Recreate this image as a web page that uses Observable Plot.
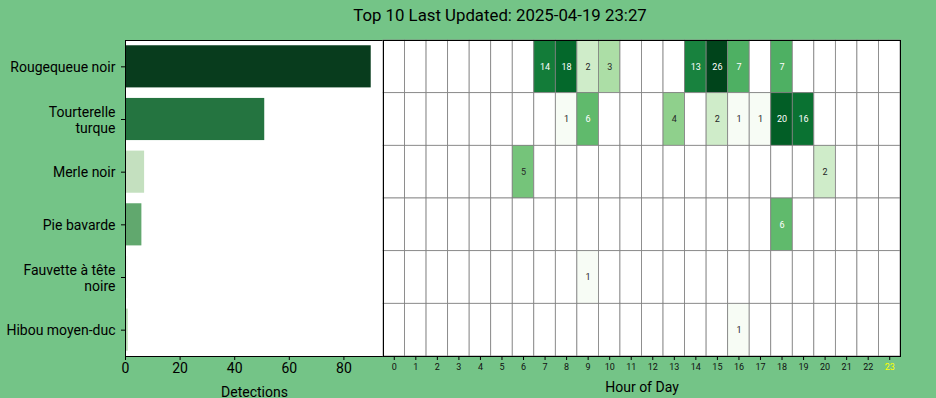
<!DOCTYPE html>
<html><head><meta charset="utf-8">
<script src="https://cdn.jsdelivr.net/npm/d3@7"></script>
<script src="https://cdn.jsdelivr.net/npm/@observablehq/plot@0.6"></script>
<style>
html,body{margin:0;padding:0;background:#74c487;}
#wrap{position:relative;width:936px;height:398px;background:#74c487;font-family:Roboto,sans-serif;overflow:hidden}
#title{position:absolute;left:0;top:5px;width:1000px;text-align:center;font-size:16.8px;line-height:20px;color:#000;}
.panel{position:absolute;top:0}
#left{left:0;width:386px}
#right{left:380px;width:556px}
</style></head>
<body><div id="wrap"><div id="title"></div><div id="left" class="panel"></div><div id="right" class="panel"></div></div>
<script>
// ---- data ----
const species = ["Rougequeue noir","Tourterelle turque","Merle noir","Pie bavarde","Fauvette à tête noire","Hibou moyen-duc"];
const speciesLabels = ["Rougequeue noir","Tourterelle\nturque","Merle noir","Pie bavarde","Fauvette à tête\nnoire","Hibou moyen-duc"];
const maxConfidence = [0.98, 0.922, 0.776, 0.862, 0.70, 0.785];
const hours = [0,1,2,3,4,5,6,7,8,9,10,11,12,13,14,15,16,17,18,19,20,21,22,23];
const hourlyCounts = [
  [0,0,0,0,0,0,0,14,18,2,3,0,0,0,13,26,7,0,7,0,0,0,0,0],
  [0,0,0,0,0,0,0,0,1,6,0,0,0,4,0,2,1,1,20,16,0,0,0,0],
  [0,0,0,0,0,0,5,0,0,0,0,0,0,0,0,0,0,0,0,0,2,0,0,0],
  [0,0,0,0,0,0,0,0,0,0,0,0,0,0,0,0,0,0,6,0,0,0,0,0],
  [0,0,0,0,0,0,0,0,0,1,0,0,0,0,0,0,0,0,0,0,0,0,0,0],
  [0,0,0,0,0,0,0,0,0,0,0,0,0,0,0,0,1,0,0,0,0,0,0,0]
];
const detectionTicks = [0,20,40,60,80];
const currentHour = 23;
const titleText = "Top 10 Last Updated: 2025-04-19 23:27";
const xLabelLeft = "Detections";
const xLabelRight = "Hour of Day";

// ---- derived tables ----
const labelOf = new Map(species.map((s,i)=>[s, speciesLabels[i]]));
const bars = species.map((s,i)=>({species:s, count:d3.sum(hourlyCounts[i]), conf:maxConfidence[i]}));
const cells = [];
species.forEach((s,i)=>hours.forEach((h,j)=>cells.push({species:s, hour:h, count:hourlyCounts[i][j]})));
const vmax = d3.max(cells, d=>d.count);

const confExt = d3.extent(maxConfidence);
function barColor(c){
  const t = (c-confExt[0])/(confExt[1]-confExt[0]);
  const hsl = d3.hsl(d3.interpolateGreens(t));
  hsl.s *= 0.75;
  return hsl.formatHex();
}
const colorScale = Plot.scale({color:{type:"log", scheme:"greens", domain:[1, vmax]}});
function cellColor(v){ return v>0 ? colorScale.apply(v) : "white"; }
function lum(col){
  const c = d3.rgb(col);
  const f = x => { x/=255; return x<=0.03928 ? x/12.92 : Math.pow((x+0.055)/1.055, 2.4); };
  return 0.2126*f(c.r)+0.7152*f(c.g)+0.0722*f(c.b);
}
function textColor(d){ return lum(cellColor(d.count)) > 0.408 ? "#262626" : "white"; }

const baseStyle = {background:"transparent", overflow:"visible", fontFamily:"Roboto, sans-serif", fontSize:"14px", color:"black"};

// ---- left: detections bar chart ----
const left = Plot.plot({
  width:386, height:398,
  marginLeft:125, marginRight:3, marginTop:40, marginBottom:42,
  style: baseStyle,
  x:{domain:[0, d3.max(bars,d=>d.count)*1.05]},
  y:{type:"band", domain:species, paddingInner:0.2, paddingOuter:0.1, round:false},
  marks:[
    Plot.frame({fill:"white"}),
    Plot.barX(bars, {x:"count", y:"species", fill:d=>barColor(d.conf)}),
    Plot.frame({stroke:"black", strokeWidth:1}),
    Plot.axisY({tickSize:4, tickPadding:6, fontSize:14, tickFormat:d=>labelOf.get(d), lineHeight:1.15, label:null, stroke:"black", fill:"black"}),
    Plot.axisX({ticks:detectionTicks, tickSize:4, tickPadding:3, fontSize:14, label:xLabelLeft, labelAnchor:"center", labelArrow:"none", labelOffset:40, stroke:"black", fill:"black"})
  ]
});
document.getElementById("left").appendChild(left);

// ---- right: hourly heatmap ----
const right = Plot.plot({
  width:556, height:398,
  marginLeft:3, marginRight:36, marginTop:40, marginBottom:42,
  style: baseStyle,
  x:{type:"band", domain:hours, padding:0, round:false},
  y:{type:"band", domain:species, padding:0, round:false, axis:null},
  marks:[
    Plot.frame({fill:"white"}),
    Plot.cell(cells, {x:"hour", y:"species", fill:d=>cellColor(d.count), stroke:"#808080", strokeWidth:0.8, inset:0}),
    Plot.text(cells.filter(d=>d.count>0), {x:"hour", y:"species", text:d=>String(d.count), fill:textColor, fontSize:9}),
    Plot.frame({stroke:"black", strokeWidth:1}),
    Plot.axisX({tickSize:4, tickPadding:3, fontSize:9, stroke:"black", fill:d=>d===currentHour?"yellow":"#111", label:null}),
    Plot.axisX({ticks:[], tickSize:0, fontSize:14, fill:"black", label:xLabelRight, labelAnchor:"center", labelOffset:35, labelArrow:"none"})
  ]
});
document.getElementById("right").appendChild(right);
document.getElementById("title").textContent = titleText;
</script>
</body></html>
